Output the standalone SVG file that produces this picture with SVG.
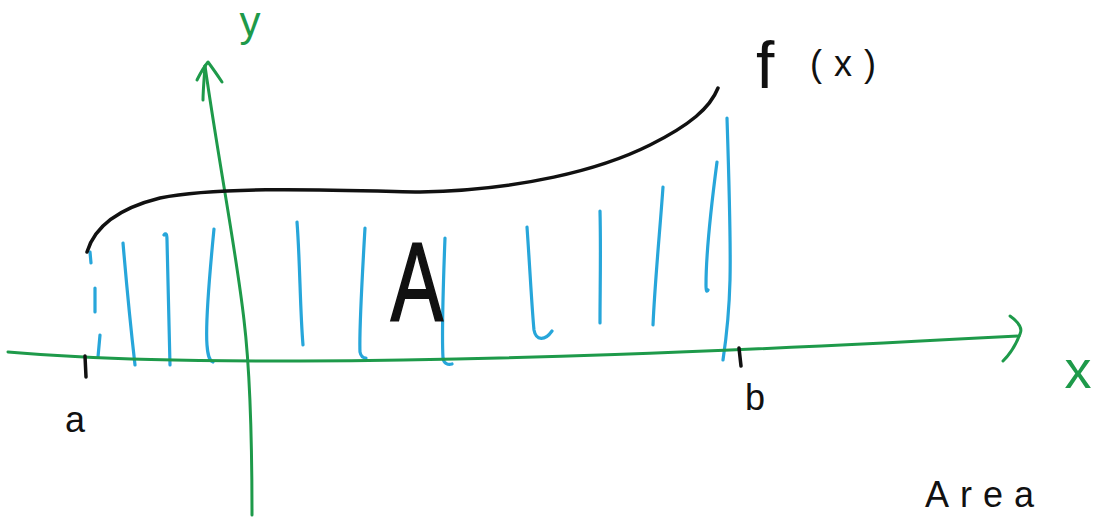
<svg xmlns="http://www.w3.org/2000/svg" width="1094" height="518" viewBox="0 0 1094 518">
<style>
.g{fill:none;stroke:#1e9a4a;stroke-width:3;stroke-linecap:round;stroke-linejoin:round}
.k{fill:none;stroke:#111;stroke-width:3.5;stroke-linecap:round;stroke-linejoin:round}
.b{fill:none;stroke:#27a6da;stroke-width:3.2;stroke-linecap:round;stroke-linejoin:round}
.tg{fill:#1e9a4a;font-family:"Liberation Sans",Arial,sans-serif}
.tk{fill:#111;font-family:"Liberation Sans",Arial,sans-serif}
</style>
<rect width="1094" height="518" fill="#fff"/>
<g id="hatch">
<path class="b" d="M90,252 L91,263 M95,288 L95,312 M100,335 L98,357"/>
<path class="b" d="M123,243 C127,290 131,330 135,365"/>
<path class="b" d="M164,235 Q167,231 167,240 C168,290 169,330 170,365"/>
<path class="b" d="M214,229 C210,270 205,320 207,345 C208,358 210,361 213,362"/>
<path class="b" d="M297,222 C300,260 300,310 303,345"/>
<path class="b" d="M365,228 C362,280 359,330 360,352 C361,357 363,358 366,358"/>
<path class="b" d="M445,238 C443,290 442,340 443,358 C444,364 448,365 452,364"/>
<path class="b" d="M527,227 C530,270 532,310 534,330 C536,341 545,341 552,331"/>
<path class="b" d="M600,211 C601,250 600,290 600,323"/>
<path class="b" d="M663,187 C660,230 655,280 653,325"/>
<path class="b" d="M717,162 C712,200 706,250 706,285 C706,292 707,292 708,290"/>
<path class="b" d="M727,118 C729,180 731,240 730,280 C729,320 726,340 723,360"/>
</g>
<g id="axes">
<path class="g" d="M8,352 C100,360 200,361 300,361 C500,360 700,353 1019,336"/>
<path class="g" d="M1010,316 Q1024,326 1020,334 Q1014,350 1003,361"/>
<path class="g" d="M252,515 C252,430 250,370 244,320 C236,250 220,170 205,66"/>
<path class="g" d="M197,80 Q203,68 208,62 Q214,70 222,82"/>
<path class="g" d="M205,66 C204,80 203,92 203,100"/>
</g>
<g id="curve">
<path class="k" d="M87,252 C95,225 120,208 160,198 C220,186 330,190 420,192 C520,190 600,170 650,145 C690,125 710,108 718,88"/>
<path class="k" d="M85,356 L86,377 M739,348 L741,366" stroke-width="3"/>
</g>
<g id="labels">
<text class="tg" x="250" y="36" font-size="42" text-anchor="middle">y</text>
<text class="tg" x="1078" y="388" font-size="54" text-anchor="middle">x</text>
<text class="tk" x="756" y="88" font-size="66">f</text>
<text class="tk" x="810" y="76" font-size="36" letter-spacing="12">(x)</text>
<text class="tk" x="417" y="320" font-size="112" text-anchor="middle" stroke="#111" stroke-width="2" transform="translate(417,0) scale(0.7,1) translate(-417,0)">A</text>
<text class="tk" x="75" y="432" font-size="36" text-anchor="middle">a</text>
<text class="tk" x="755" y="410" font-size="36" text-anchor="middle">b</text>
<text class="tk" x="925" y="507" font-size="36" letter-spacing="11">Area</text>
</g>
</svg>
